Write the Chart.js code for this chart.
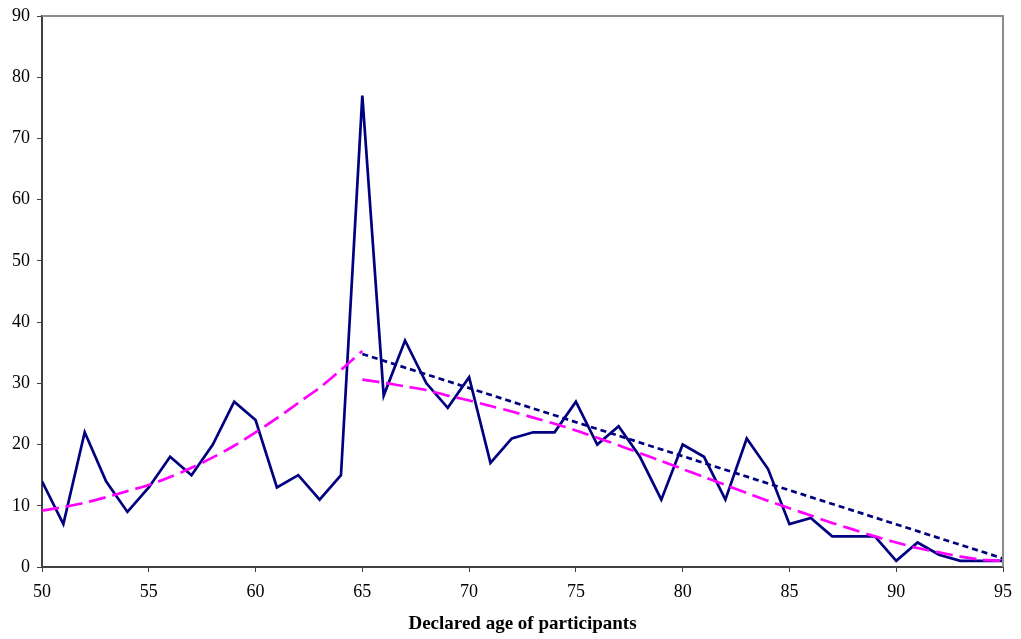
<!DOCTYPE html>
<html>
<head>
<meta charset="utf-8">
<script src="https://cdn.jsdelivr.net/npm/chart.js@4"></script>
<style>
  html, body { margin: 0; padding: 0; background: #fff; }
  #wrap { width: 1021px; height: 639px; }
</style>
</head>
<body>
<div id="wrap"><canvas id="ageChart"></canvas></div>
<script>
// Declared ages and number of participants
const ages = [50, 51, 52, 53, 54, 55, 56, 57, 58, 59, 60, 61, 62, 63, 64, 65, 66, 67, 68, 69, 70,
              71, 72, 73, 74, 75, 76, 77, 78, 79, 80, 81, 82, 83, 84, 85, 86, 87, 88, 89, 90,
              91, 92, 93, 94, 95];
const counts = [14, 7, 22, 14, 9, 13, 18, 15, 20, 27, 24, 13, 15, 11, 15, 77, 28, 37, 30, 26, 31,
                17, 21, 22, 22, 27, 20, 23, 18, 11, 20, 18, 11, 21, 16, 7, 8, 5, 5, 5, 1,
                4, 2, 1, 1, 1];

// Trend under 65 (magenta)
const trendLowAges = [50, 51, 52, 53, 54, 55, 56, 57, 58, 59, 60, 61, 62, 63, 64, 65];
const trendLowVals = [9.2, 9.8, 10.5, 11.4, 12.4, 13.4, 14.7, 16.2, 17.9, 19.8, 22.0, 24.3, 26.8, 29.3, 32.2, 35.3];

// Trend from 65 on (magenta)
const trendHighAges = [65, 66, 67, 68, 69, 70, 71, 72, 73, 74, 75, 76, 77, 78, 79, 80,
                       81, 82, 83, 84, 85, 86, 87, 88, 89, 90, 91, 92, 93, 94, 95];
const trendHighVals = [30.6, 30.1, 29.5, 28.9, 28.0, 27.2, 26.3, 25.4, 24.4, 23.4, 22.3, 21.1, 19.9, 18.6, 17.3, 16.0,
                       14.7, 13.4, 12.1, 10.8, 9.6, 8.4, 7.2, 6.1, 5.0, 4.0, 3.1, 2.4, 1.7, 1.2, 1.0];

// Linear trend from 65 on (navy dotted)
const linearAges = [65, 95];
const linearVals = [34.8, 1.4];

const toPoints = (xs, ys) => xs.map((x, i) => ({ x: x, y: ys[i] }));

// gray frame on top and right
const framePlugin = {
    id: 'frame',
    afterDraw(chart) {
        const { ctx, chartArea: a } = chart;
        ctx.save();
        ctx.strokeStyle = '#8c8c8c';
        ctx.lineWidth = 2;
        ctx.beginPath();
        ctx.moveTo(a.left, a.top);
        ctx.lineTo(a.right, a.top);
        ctx.lineTo(a.right, a.bottom);
        ctx.stroke();
        ctx.restore();
    }
};

const ctx = document.getElementById('ageChart').getContext('2d');
new Chart(ctx, {
    type: 'line',
    data: {
        datasets: [
            {
                data: toPoints(ages, counts),
                borderColor: '#000080',
                borderWidth: 2.7,
                pointRadius: 0,
                tension: 0,
                order: 3
            },
            {
                data: toPoints(linearAges, linearVals),
                borderColor: '#000080',
                borderWidth: 2.7,
                borderDash: [6, 4],
                pointRadius: 0,
                order: 2
            },
            {
                data: toPoints(trendLowAges, trendLowVals),
                borderColor: '#ff00ff',
                borderWidth: 2.7,
                borderDash: [17, 7],
                pointRadius: 0,
                tension: 0.3,
                order: 1
            },
            {
                data: toPoints(trendHighAges, trendHighVals),
                borderColor: '#ff00ff',
                borderWidth: 2.7,
                borderDash: [17, 7],
                pointRadius: 0,
                tension: 0.3,
                order: 1
            }
        ]
    },
    options: {
        responsive: true,
        maintainAspectRatio: false,
        animation: false,
        layout: { padding: { top: 16, right: 15, left: 0, bottom: 0 } },
        plugins: {
            legend: { display: false },
            tooltip: { enabled: false }
        },
        scales: {
            x: {
                type: 'linear',
                min: 50,
                max: 95,
                afterFit: (scale) => { scale.height = 72; },
                ticks: {
                    stepSize: 5,
                    color: '#000',
                    padding: 9,
                    maxRotation: 0,
                    font: { family: 'Liberation Serif', size: 18 }
                },
                grid: {
                    drawOnChartArea: false,
                    tickLength: 5,
                    color: '#404040'
                },
                border: { color: '#404040', width: 2 },
                title: {
                    display: true,
                    text: 'Declared age of participants',
                    color: '#000',
                    padding: { top: 3 },
                    font: { family: 'Liberation Serif', size: 19, weight: 'bold' }
                }
            },
            y: {
                min: 0,
                max: 90,
                afterFit: (scale) => { scale.width = 42; },
                ticks: {
                    stepSize: 10,
                    color: '#000',
                    padding: 7,
                    font: { family: 'Liberation Serif', size: 18, lineHeight: 1 }
                },
                grid: {
                    drawOnChartArea: false,
                    tickLength: 5,
                    color: '#404040'
                },
                border: { color: '#404040', width: 2 }
            }
        }
    },
    plugins: [framePlugin]
});
</script>
</body>
</html>
